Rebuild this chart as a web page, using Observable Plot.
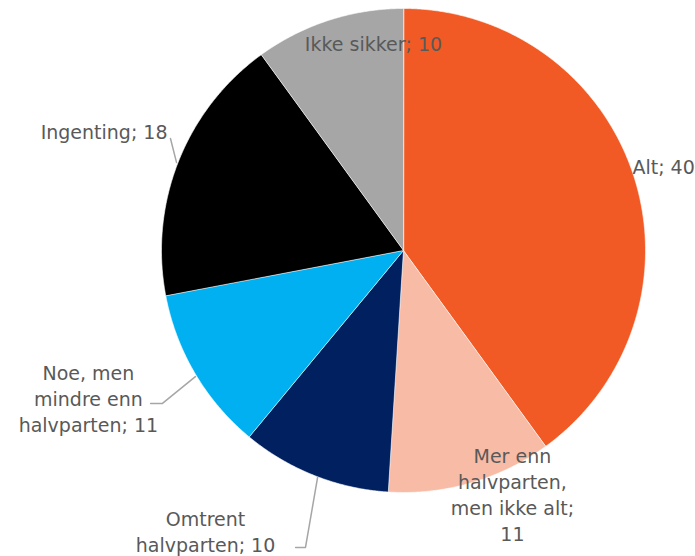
<!DOCTYPE html>
<html>
<head>
<meta charset="utf-8">
<script src="https://cdn.jsdelivr.net/npm/d3@7"></script>
<script src="https://cdn.jsdelivr.net/npm/@observablehq/plot@0.6"></script>
<style>
  html, body { margin: 0; padding: 0; background: #fff; }
  #chart svg { display: block; }
</style>
</head>
<body>
<div id="chart"></div>
<script>
// ---- Data ----
const categories = ["Alt", "Mer enn halvparten, men ikke alt", "Omtrent halvparten", "Noe, men mindre enn halvparten", "Ingenting", "Ikke sikker"];
const values = [40, 11, 10, 11, 18, 10];
const labelTexts = ["Alt; 40", "Mer enn\nhalvparten,\nmen ikke alt;\n11", "Omtrent\nhalvparten; 10", "Noe, men\nmindre enn\nhalvparten; 11", "Ingenting; 18", "Ikke sikker; 10"];
const colors = ["#F15A24", "#F8BBA6", "#002060", "#00B0F0", "#000000", "#A6A6A6"];

// ---- Layout (unit-circle coordinates, pie radius = 1) ----
const labelX = [0.946, 0.450, -0.818, -1.302, -0.975, -0.124];
const labelY = [0.351, -1.006, -1.157, -0.607, 0.496, 0.860];
const labelAnchor = ["start", "middle", "middle", "middle", "end", "middle"];
// leader lines: [label index, [[x,y],...]]
const leaders = [
  [4, [[-0.963, 0.463], [-0.938, 0.364]]],
  [3, [[-1.045, -0.632], [-0.996, -0.632], [-0.860, -0.521]]],
  [2, [[-0.446, -1.227], [-0.405, -1.227], [-0.355, -0.938]]]
];

// ---- Build slices ----
const pie = d3.pie().sort(null).value(d => d)(values);
const slicePts = [];
pie.forEach((p, i) => {
  slicePts.push({cat: categories[i], x: 0, y: 0});
  const n = Math.max(2, Math.ceil((p.endAngle - p.startAngle) / 0.005));
  for (let k = 0; k <= n; k++) {
    const a = p.startAngle + (p.endAngle - p.startAngle) * k / n;
    slicePts.push({cat: categories[i], x: Math.sin(a), y: Math.cos(a)});
  }
});
const labels = categories.map((c, i) => ({text: labelTexts[i], x: labelX[i], y: labelY[i], anchor: labelAnchor[i]}));
const leaderPts = [];
leaders.forEach(([li, pts]) => pts.forEach(([x, y]) => leaderPts.push({id: li, x, y})));

const font = "'DejaVu Sans', sans-serif";
const textColor = "#595959";

const plot = Plot.plot({
  width: 695,
  height: 556,
  margin: 0,
  x: {domain: [-1, 1], range: [161, 645], axis: null},
  y: {domain: [-1, 1], range: [492, 8], axis: null},
  color: {domain: categories, range: colors},
  style: {fontFamily: font, background: "#fff"},
  marks: [
    Plot.line(slicePts, {x: "x", y: "y", z: "cat", fill: "cat", stroke: "#fff", strokeWidth: 0.6, curve: "linear-closed"}),
    Plot.line(leaderPts, {x: "x", y: "y", z: "id", stroke: "#A6A6A6", strokeWidth: 1.5}),
    ...["start", "middle", "end"].map(anc =>
      Plot.text(labels.filter(d => d.anchor === anc), {
        x: "x", y: "y", text: "text", textAnchor: anc, lineAnchor: "middle",
        fontSize: 19, lineHeight: 1.37, fill: textColor, fontFamily: font
      })
    )
  ]
});
document.getElementById("chart").appendChild(plot);
</script>
</body>
</html>
